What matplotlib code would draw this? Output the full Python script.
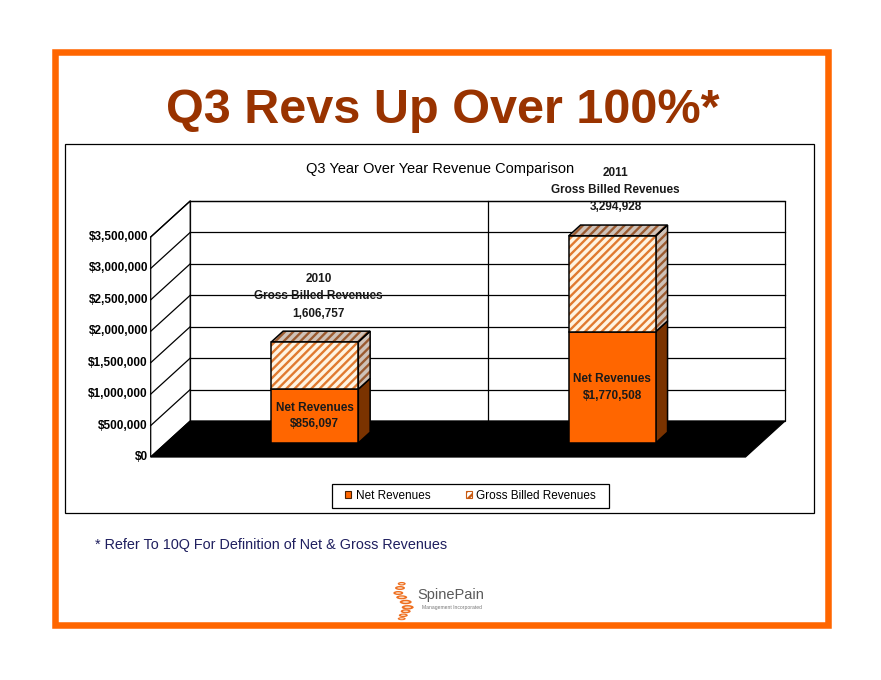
import matplotlib
matplotlib.use('Agg')
import matplotlib.pyplot as plt
from matplotlib.patches import Polygon, Rectangle, Ellipse, Patch
from matplotlib import font_manager as fm

# ---------------- data ----------------
years = ['2010', '2011']
net_revenues = [856097, 1770508]
gross_billed = [1606757, 3294928]
y_ticks = [0, 500000, 1000000, 1500000, 2000000, 2500000, 3000000, 3500000]
tick_labels = ['$0', '$500,000', '$1,000,000', '$1,500,000', '$2,000,000',
               '$2,500,000', '$3,000,000', '$3,500,000']
legend_labels = ['Net Revenues', 'Gross Billed Revenues']
main_title = 'Q3 Revs Up Over 100%*'
chart_title = 'Q3 Year Over Year Revenue Comparison'
footnote = '* Refer To 10Q For Definition of Net & Gross Revenues'

# ---------------- fonts ----------------
avail = {f.name for f in fm.fontManager.ttflist}
BASE = 'Liberation Sans' if 'Liberation Sans' in avail else 'DejaVu Sans'
NARROW = 'Liberation Sans Narrow' if 'Liberation Sans Narrow' in avail else None
plt.rcParams['font.family'] = [BASE, 'DejaVu Sans']
plt.rcParams['hatch.linewidth'] = 1.7

W, H = 881, 680
fig = plt.figure(figsize=(W / 100, H / 100), dpi=100)
fig.patch.set_facecolor('white')

# background / decoration axes in pixel coordinates
bg = fig.add_axes([0, 0, 1, 1], zorder=0)
bg.set_xlim(0, W)
bg.set_ylim(H, 0)
bg.axis('off')

ORANGE = '#FF6600'
DARK_NET = '#7A3300'
HATCH_FRONT = '#E07A30'
HATCH_FRONT_BG = '#FFF4E2'
HATCH_SIDE = '#9A5A30'
HATCH_SIDE_BG = '#CFC2B8'

# chart box
bg.add_patch(Rectangle((65, 144), 814 - 65, 513 - 144, facecolor='white',
                       edgecolor='black', lw=0.9, zorder=1))

# ---------------- 3D-ish chart axes ----------------
n = len(years)
ymax = max(y_ticks)
LEFT_PX, RIGHT_PX, BOTTOM_PX, TOP_PX = 150.7, 785.0, 457.0, 201.0
DEPTH_X_PX, DEPTH_Y_PX = 39.5, 36.0
ax = fig.add_axes([LEFT_PX / W, 1 - BOTTOM_PX / H, (RIGHT_PX - LEFT_PX) / W,
                   (BOTTOM_PX - TOP_PX) / H], zorder=2)
ax.patch.set_alpha(0)
ax.axis('off')
px_per_x = (RIGHT_PX - LEFT_PX - DEPTH_X_PX) / n
px_per_y = (BOTTOM_PX - TOP_PX - DEPTH_Y_PX) / ymax
DX = DEPTH_X_PX / px_per_x
DY = DEPTH_Y_PX / px_per_y
ax.set_xlim(0, n + DX)
ax.set_ylim(0, ymax + DY)

LW = 0.9
# back wall
ax.add_patch(Rectangle((DX, DY), n, ymax, facecolor='white', edgecolor='black',
                       lw=LW, zorder=1, clip_on=False))
# left wall
ax.add_patch(Polygon([(0, 0), (DX, DY), (DX, ymax + DY), (0, ymax)],
                     closed=True, facecolor='white', edgecolor='black', lw=LW,
                     zorder=1, clip_on=False))
# gridlines
for v in y_ticks[1:]:
    ax.plot([0, DX], [v, v + DY], color='black', lw=LW, zorder=2, clip_on=False)
    ax.plot([DX, n + DX], [v + DY, v + DY], color='black', lw=LW, zorder=2,
            clip_on=False)
for i in range(1, n):
    ax.plot([i + DX, i + DX], [DY, ymax + DY], color='black', lw=LW, zorder=2,
            clip_on=False)
# floor
ax.add_patch(Polygon([(0, 0), (n, 0), (n + DX, DY), (DX, DY)], closed=True,
                     facecolor='black', edgecolor='black', lw=LW, zorder=3,
                     clip_on=False))

# tick labels
for v, lab in zip(y_ticks, tick_labels):
    ax.annotate(lab, xy=(0, v), xytext=(-2, 0), textcoords='offset points',
                ha='right', va='center', fontsize=8.5, fontweight='bold',
                annotation_clip=False)

# bars
HW = 43.5 / px_per_x
Z0, Z1 = 0.39, 0.69


def P(x, y, z):
    return (x + z * DX, y + z * DY)


def draw_face(pts, kind, z):
    if kind == 'net_front':
        ax.add_patch(Polygon(pts, closed=True, facecolor=ORANGE,
                             edgecolor='black', lw=1.1, zorder=z, clip_on=False))
    elif kind == 'net_side':
        ax.add_patch(Polygon(pts, closed=True, facecolor=DARK_NET,
                             edgecolor='black', lw=1.1, zorder=z, clip_on=False))
    elif kind == 'gross_front':
        ax.add_patch(Polygon(pts, closed=True, facecolor=HATCH_FRONT_BG,
                             edgecolor=HATCH_FRONT, hatch='////', lw=0,
                             zorder=z, clip_on=False))
        ax.add_patch(Polygon(pts, closed=True, fill=False, edgecolor='black',
                             lw=1.1, zorder=z + 0.1, clip_on=False))
    else:  # gross side / top
        ax.add_patch(Polygon(pts, closed=True, facecolor=HATCH_SIDE_BG,
                             edgecolor=HATCH_SIDE, hatch='////', lw=0,
                             zorder=z, clip_on=False))
        ax.add_patch(Polygon(pts, closed=True, fill=False, edgecolor='black',
                             lw=1.1, zorder=z + 0.1, clip_on=False))


for i, (yr, net, gross) in enumerate(zip(years, net_revenues, gross_billed)):
    c = i + 0.5
    for a, b, kind in [(0, net, 'net'), (net, gross, 'gross')]:
        front = [P(c - HW, a, Z0), P(c + HW, a, Z0), P(c + HW, b, Z0), P(c - HW, b, Z0)]
        side = [P(c + HW, a, Z0), P(c + HW, a, Z1), P(c + HW, b, Z1), P(c + HW, b, Z0)]
        draw_face(side, kind + '_side', 5)
        draw_face(front, kind + '_front', 6)
    top = [P(c - HW, gross, Z0), P(c + HW, gross, Z0), P(c + HW, gross, Z1),
           P(c - HW, gross, Z1)]
    draw_face(top, 'gross_top', 5)
    # labels
    ax.text(c + Z0 * DX, net / 2 + Z0 * DY, f'Net Revenues\n${net:,}',
            ha='center', va='center', fontsize=8.5, fontweight='bold',
            linespacing=1.5, zorder=10, color='#1a1a1a')
    ax.annotate(f'{yr}\nGross Billed Revenues\n{gross:,}',
                xy=(c + Z0 * DX + 0.012, gross + Z0 * DY), xytext=(0, 33),
                textcoords='offset points', ha='center', va='center',
                fontsize=8.5, fontweight='bold', linespacing=1.6, zorder=10,
                color='#1a1a1a', annotation_clip=False)

# ---------------- titles / legend / footnote ----------------
bg.text(442.5, 123, main_title, ha='center', va='baseline', fontsize=35,
        fontweight='bold', color='#993300', zorder=3)
bg.text(439.7, 173, chart_title, ha='center', va='baseline', fontsize=10.5,
        color='black', zorder=3)

bg.add_patch(Rectangle((332, 484), 609 - 332, 508 - 484, facecolor='white',
                       edgecolor='black', lw=0.9, zorder=3))
handles = [Patch(facecolor=ORANGE, edgecolor='#4a1f00', lw=0.8),
           Patch(facecolor='white', edgecolor='#C85A10', hatch='////', lw=0.8)]
fig.legend(handles, legend_labels, loc='center',
           bbox_to_anchor=(470.5 / W, 1 - 496 / H), ncol=2, frameon=False,
           fontsize=8.5, handlelength=0.55, handleheight=0.55,
           handletextpad=0.35, columnspacing=3.0)

if NARROW:
    bg.text(95, 549, footnote, ha='left', va='baseline', fontsize=12.7,
            family=[NARROW, BASE], color='#1F1F5F', zorder=3)
else:
    bg.text(95, 549, footnote, ha='left', va='baseline', fontsize=10.4,
            color='#1F1F5F', zorder=3)

# ---------------- logo ----------------
rings = [(401.7, 583.7, 8, 3.5), (400, 588, 10, 4), (398.3, 593, 10, 4),
         (401.7, 597.3, 11, 4), (405.7, 602, 12, 4.5), (407.7, 607.3, 12, 4.5),
         (405.7, 611.3, 10, 4), (403.3, 615.3, 9, 3.5), (401.7, 618.7, 8, 3)]
for (x, y, w, h) in rings:
    bg.add_patch(Ellipse((x, y), w, h, facecolor='#EE6E1E', edgecolor='none',
                         zorder=2))
    bg.add_patch(Ellipse((x, y), w * 0.55, h * 0.4, facecolor='#FBD8BC',
                         edgecolor='none', zorder=2.1))
bg.text(451, 595, 'SpinePain', ha='center', va='center', fontsize=10.5,
        color='#5a5a5a', zorder=3)
bg.text(452, 607.5, 'Management Incorporated', ha='center', va='center',
        fontsize=3.6, color='#777777', zorder=3)

# orange frame
bg.add_patch(Rectangle((55.25, 52.25), 772.5, 572.5, fill=False,
                       edgecolor=ORANGE, lw=4.7, zorder=4))

fig.savefig('out.png', dpi=100)
